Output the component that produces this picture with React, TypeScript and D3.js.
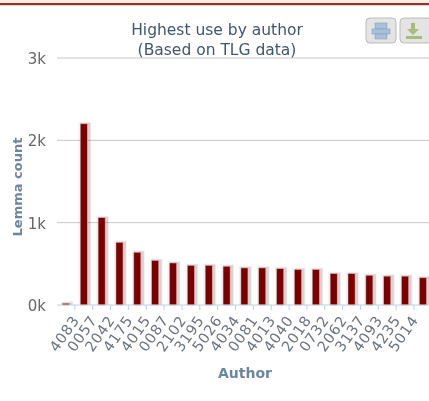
import * as d3 from "d3";

/* data */
const authors = [
  "4083", "0057", "2042", "4175", "4015", "0087", "2102", "3195", "5026", "4034",
  "0081", "4013", "4040", "2018", "0732", "2062", "3137", "4093", "4235", "5014", "",
];
const lemmaCounts = [
  20, 2200, 1060, 760, 640, 540, 510, 480, 480, 470,
  450, 450, 440, 430, 430, 380, 380, 360, 350, 350, 330,
];
const yTicks = [0, 1000, 2000, 3000];
const titleLines = ["Highest use by author", "(Based on TLG data)"];

const width = 429;
const height = 401;
const font = "'DejaVu Sans', sans-serif";

const x = d3.scaleBand<number>().domain(d3.range(authors.length)).range([57, 57 + 17.85 * authors.length]);
const y = d3.scaleLinear().domain([0, 3000]).range([305, 58]);
const barW = 7;

export default function App() {
  const baseY = y(0);
  return (
    <svg
      width={width}
      height={height}
      style={{ position: "absolute", left: 0, top: 0, background: "#fff", filter: "blur(0.4px)" }}
    >
      {/* page border at the top */}
      <rect x={0} y={0} width={width} height={3} fill="#f3efe6" />
      <rect x={0} y={3} width={width} height={2} fill="#a8282c" />
      <rect x={0} y={5} width={width} height={1} fill="#d9d5d0" />

      {/* gridlines */}
      {yTicks.slice(1).map((t) => (
        <line key={t} x1={57} x2={width} y1={y(t)} y2={y(t)} stroke="#c8c8c8" strokeWidth={1} />
      ))}

      {/* y tick labels */}
      {yTicks.map((t) => (
        <text
          key={t}
          x={46}
          y={y(t) + 6}
          textAnchor="end"
          fontFamily={font}
          fontSize={15}
          fill="#666"
        >
          {d3.format(".0f")(t / 1000) + "k"}
        </text>
      ))}

      {/* bars with their soft shadow */}
      {lemmaCounts.map((v, i) => {
        const cx = x(i)! + x.bandwidth() / 2;
        const top = y(v);
        return (
          <g key={i}>
            <rect x={cx - barW / 2 - 2} y={top - 2} width={barW + 6} height={baseY - top + 2} fill="#000" opacity={0.05} />
            <rect x={cx - barW / 2} y={top - 1} width={barW + 3} height={baseY - top + 1} fill="#000" opacity={0.12} />
            <rect x={cx - barW / 2} y={top} width={barW} height={baseY - top} fill="#7b0000" stroke="#d8b0b0" strokeWidth={0.5} />
          </g>
        );
      })}

      {/* x axis line and ticks */}
      <line x1={57} x2={width} y1={baseY} y2={baseY} stroke="#c0d0e0" strokeWidth={1} />
      {authors.map((_, i) => (
        <line
          key={i}
          x1={x(i)! + x.bandwidth()}
          x2={x(i)! + x.bandwidth()}
          y1={baseY}
          y2={baseY + 5}
          stroke="#c0d0e0"
          strokeWidth={1}
        />
      ))}

      {/* x tick labels */}
      {authors.map((a, i) => (
        <text
          key={i}
          transform={`translate(${x(i)! + x.bandwidth() / 2 + 14},${baseY + 15}) rotate(-55)`}
          textAnchor="end"
          fontFamily={font}
          fontSize={14.5}
          letterSpacing={0.8}
          fill="#6b7480"
        >
          {a}
        </text>
      ))}

      {/* titles */}
      {titleLines.map((line, i) => (
        <text
          key={line}
          x={217}
          y={35 + i * 20}
          textAnchor="middle"
          fontFamily={font}
          fontSize={15.5}
          fill="#3e576f"
        >
          {line}
        </text>
      ))}
      <text
        x={22}
        y={187}
        transform="rotate(-90 22 187)"
        textAnchor="middle"
        fontFamily={font}
        fontSize={13}
        fontWeight="bold"
        fill="#6d869f"
      >
        Lemma count
      </text>
      <text
        x={245}
        y={378}
        textAnchor="middle"
        fontFamily={font}
        fontSize={14}
        fontWeight="bold"
        fill="#6d869f"
      >
        Author
      </text>

      {/* export buttons */}
      <g>
        <rect x={366} y={18} width={30} height={25} rx={4} fill="#e4e4e4" stroke="#bbb" />
        <rect x={375} y={23} width={12} height={6} fill="#a9c0da" stroke="#7f98b5" strokeWidth={0.5} />
        <rect x={372} y={29} width={18} height={5} fill="#a9c0da" stroke="#7f98b5" strokeWidth={0.5} />
        <rect x={375} y={34} width={12} height={5} fill="#a9c0da" stroke="#7f98b5" strokeWidth={0.5} />
        <rect x={400} y={18} width={32} height={25} rx={4} fill="#e4e4e4" stroke="#bbb" />
        <path d="M411 23h4v6h4l-6 6-6-6h4z" fill="#a8bb78" />
        <rect x={406} y={36} width={16} height={3} fill="#a8bb78" />
      </g>
    </svg>
  );
}
